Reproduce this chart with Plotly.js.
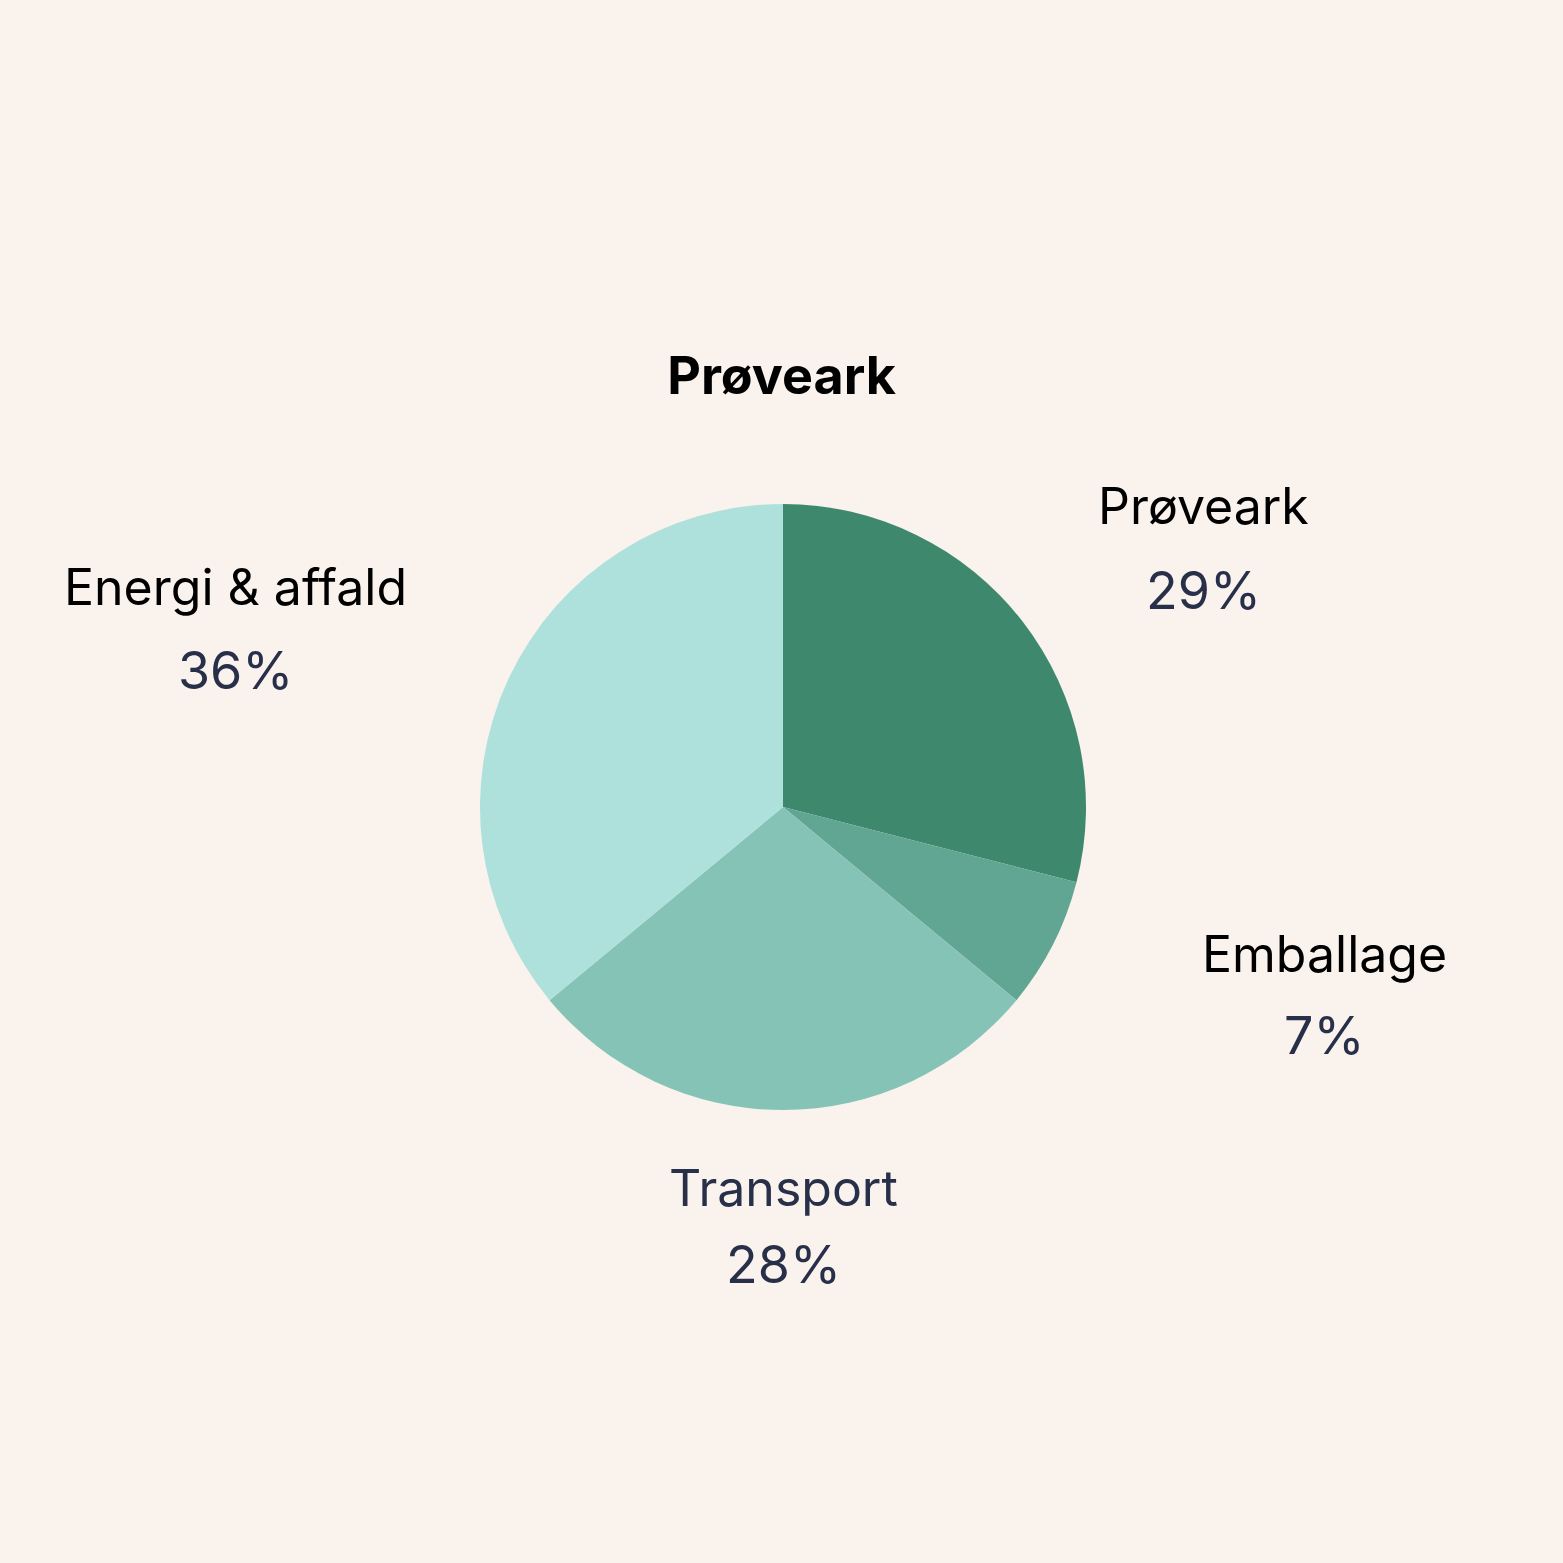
<!DOCTYPE html>
<html>
<head>
<meta charset="utf-8">
<script src="https://cdn.plot.ly/plotly-3.0.1.min.js"></script>
<style>
html,body{margin:0;padding:0;background:#f9f2ed;}
#chart{width:1563px;height:1563px;}
</style>
</head>
<body>
<div id="chart"></div>
<script>
// Data
const categories = ["Prøveark", "Emballage", "Transport", "Energi & affald"];
const shares = [29, 7, 28, 36];
const sliceColors = ["#3e896e", "#60a692", "#86c3b7", "#aee1dc"];
const chartTitle = "Prøveark";

// Layout / label placement (pixel positions of label text centres, not data)
const W = 1563, H = 1563;
const pieCx = 783, pieCy = 807, pieR = 303;
const labelPos = [
  {x: 1203, nameY: 506, pctY: 590},
  {x: 1324, nameY: 954, pctY: 1035},
  {x: 783,  nameY: 1188, pctY: 1264},
  {x: 235,  nameY: 587, pctY: 670}
];
const nameColors = ["#000000", "#000000", "#283049", "#000000"];
const pctColor = "#283049";
const fontFam = "Inter, 'Noto Sans', sans-serif";

const px = x => x / W;
const py = y => 1 - y / H;

const total = shares.reduce((a, b) => a + b, 0);
const annotations = [];
categories.forEach((c, i) => {
  annotations.push({
    xref: "paper", yref: "paper", x: px(labelPos[i].x), y: py(labelPos[i].nameY),
    xanchor: "center", yanchor: "middle", showarrow: false,
    text: c, font: {family: fontFam, size: 50, color: nameColors[i]}
  });
  annotations.push({
    xref: "paper", yref: "paper", x: px(labelPos[i].x), y: py(labelPos[i].pctY),
    xanchor: "center", yanchor: "middle", showarrow: false,
    text: Math.round(shares[i] / total * 100) + "%",
    font: {family: fontFam, size: 52, color: pctColor}
  });
});

const trace = {
  type: "pie",
  labels: categories,
  values: shares,
  sort: false,
  direction: "clockwise",
  rotation: 0,
  marker: {colors: sliceColors, line: {width: 0}},
  textinfo: "none",
  hoverinfo: "label+percent",
  showlegend: false,
  domain: {
    x: [px(pieCx - pieR), px(pieCx + pieR)],
    y: [py(pieCy + pieR), py(pieCy - pieR)]
  }
};

const layout = {
  width: W, height: H,
  margin: {l: 0, r: 0, t: 0, b: 0},
  paper_bgcolor: "#f9f2ed",
  plot_bgcolor: "#f9f2ed",
  showlegend: false,
  title: {
    text: "<b>" + chartTitle + "</b>",
    x: 0.5, xanchor: "center", xref: "paper",
    y: py(376), yanchor: "middle", yref: "paper",
    font: {family: fontFam, size: 52, color: "#000000"}
  },
  annotations: annotations
};

Plotly.newPlot("chart", [trace], layout, {displayModeBar: false, staticPlot: true});
</script>
</body>
</html>
